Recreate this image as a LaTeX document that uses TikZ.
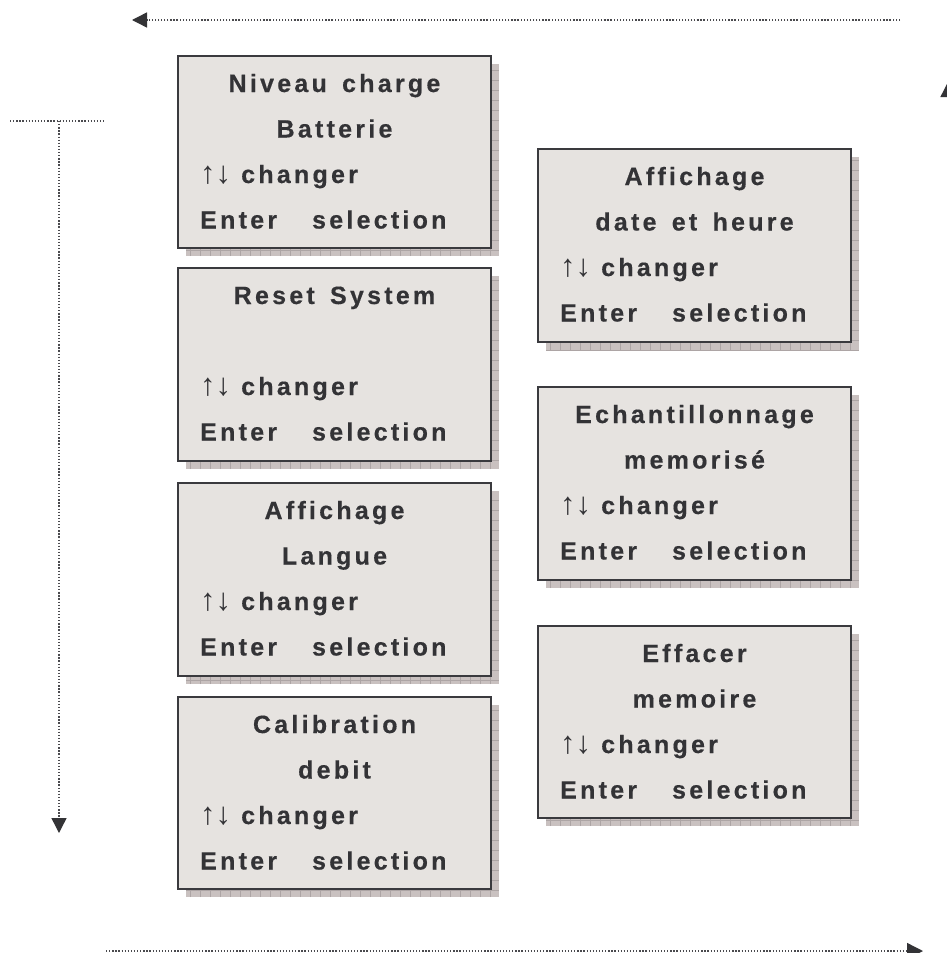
\documentclass[tikz,border=0pt]{standalone}
\usepackage{fontspec}
\usetikzlibrary{arrows.meta}
\newfontfamily\screenfont{Liberation Sans Bold}[LetterSpace=13, WordSpace=1.5, FakeBold=0.4]
\newfontfamily\arrowfont{Liberation Sans}
\definecolor{txt}{HTML}{333336}
\definecolor{boxfill}{HTML}{E6E3E0}
\definecolor{boxline}{HTML}{3A3A3E}
\definecolor{shadowfill}{HTML}{C9C1C0}
\definecolor{shadowline}{HTML}{ADA5A5}
\definecolor{dotline}{HTML}{4A4A4E}
\tikzset{
  screen/.style={draw=boxline, fill=boxfill, line width=2.5pt, rectangle, inner sep=0pt},
  shadowbox/.style={fill=shadowfill},
  shadowgrid/.style={draw=shadowline, line width=0.6pt},
  scrtext/.style={font=\screenfont\fontsize{25}{25}\selectfont, text=txt, inner sep=0pt},
  flow/.style={draw=dotline, line width=1.4pt, dash pattern=on 1.3pt off 1.8pt},
  tipA/.style={-{Triangle[length=15pt,width=15pt]}, arrows={[color=txt]}}
}
\newcommand\updown{{\arrowfont\fontsize{31}{31}\selectfont ↑↓}}
\newcommand\menuscreen[7]{%
  \fill[shadowbox] (#2+8,#3+8) rectangle (#4+8,#5+8);
  \begin{scope}
    \clip (#2+8,#3+8) rectangle (#4+8,#5+8);
    \draw[shadowgrid, step=10pt] (#2+8,#3+8) grid (#4+8,#5+8);
  \end{scope}
  \pgfmathsetmacro\bw{#4-#2}\pgfmathsetmacro\bh{#5-#3}%
  \node[screen, minimum width=\bw pt, minimum height=\bh pt] (#1) at ({(#2+#4)/2},{(#3+#5)/2}) {};
  \node[scrtext, anchor=base] (#1-l1) at ({(#2+#4)/2}, #3+36) {#6};
  \node[scrtext, anchor=base] (#1-l2) at ({(#2+#4)/2}, #3+81.5) {#7};
  \node[scrtext, anchor=base west] (#1-l3) at (#2+22, #3+127) {\updown\hspace{10pt}changer};
  \node[scrtext, anchor=base west] (#1-l4) at (#2+22, #3+172.5) {Enter\hspace{35pt}selection};
}
\begin{document}
\begin{tikzpicture}[x=1pt, y=-1pt]
\useasboundingbox (0,0) rectangle (946,953);
\fill[white] (0,0) rectangle (946,953);

\menuscreen{b1}{178}{56}{491}{248}{Niveau charge}{Batterie}
\menuscreen{b2}{178}{268}{491}{461}{Reset System}{}
\menuscreen{b3}{178}{483}{491}{676}{Affichage}{Langue}
\menuscreen{b4}{178}{697}{491}{889}{Calibration}{debit}
\menuscreen{r1}{538}{149}{851}{342}{Affichage}{date et heure}
\menuscreen{r2}{538}{387}{851}{580}{Echantillonnage}{memorisé}
\menuscreen{r3}{538}{626}{851}{818}{Effacer}{memoire}

% free connector ends
\coordinate (topR) at (900,20);
\coordinate (topL) at (132,20);
\coordinate (leftA) at (10,121);
\coordinate (leftB) at (104,121);
\coordinate (leftT) at (59,121);
\coordinate (leftD) at (59,833);
\coordinate (botL) at (106,951);
\coordinate (botR) at (923,951);
\coordinate (rightS) at (948,140);
\coordinate (rightU) at (948,82);

\draw[flow, tipA] (topR) -- (topL);
\draw[flow] (leftA) -- (leftB);
\draw[flow, tipA] (leftT) -- (leftD);
\draw[flow, -{Triangle[length=16pt,width=16pt]}, arrows={[color=txt]}] (botL) -- (botR);
\draw[flow, tipA] (rightS) -- (rightU);
\end{tikzpicture}
\end{document}
